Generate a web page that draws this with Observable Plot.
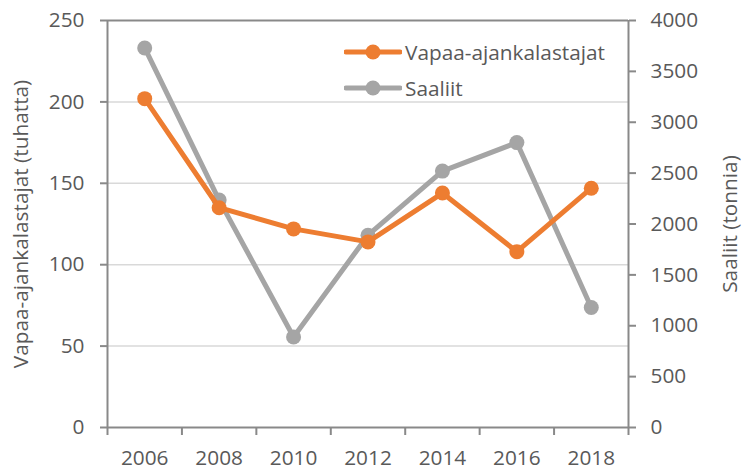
<!DOCTYPE html>
<html>
<head>
<meta charset="utf-8">
<script src="https://cdn.jsdelivr.net/npm/d3@7"></script>
<script src="https://cdn.jsdelivr.net/npm/@observablehq/plot@0.6"></script>
<style>
  html, body { margin: 0; padding: 0; background: #fff; }
  #wrap { position: relative; width: 744px; height: 470px; font-family: "Open Sans", sans-serif; }
  #legend { position: absolute; left: 344px; top: 34px; color: #595959; font-size: 20.8px; }
  .lg { display: flex; align-items: center; height: 36px; }
  .lg svg { margin-right: 3px; }
</style>
</head>
<body>
<div id="wrap"></div>
<script>
const years = [2006, 2008, 2010, 2012, 2014, 2016, 2018];
const kalastajat = [202, 135, 122, 114, 144, 108, 147];   // tuhatta (left axis)
const saaliit = [3730, 2235, 890, 1890, 2520, 2800, 1180]; // tonnia (right axis)
const leftTicks = [0, 50, 100, 150, 200, 250];
const rightTicks = [0, 500, 1000, 1500, 2000, 2500, 3000, 3500, 4000];
const seriesNames = ["Vapaa-ajankalastajat", "Saaliit"];
const colors = ["#ED7D31", "#A5A5A5"];

const leftMax = 250, rightMax = 4000;
const k = leftMax / rightMax;
const boundaries = d3.range(years[0] - 1, years[years.length - 1] + 2, 2);

const dataK = years.map((y, i) => ({year: y, v: kalastajat[i]}));
const dataS = years.map((y, i) => ({year: y, v: saaliit[i] * k}));

const axisColor = "#898989";
const textColor = "#595959";
const fs = 20.8;

const plot = Plot.plot({
  width: 744,
  height: 470,
  marginLeft: 107,
  marginRight: 116,
  marginTop: 20,
  marginBottom: 43,
  style: {fontFamily: "'Open Sans', sans-serif", fontSize: fs + "px", color: textColor, background: "#fff"},
  x: {type: "linear", domain: [boundaries[0], boundaries[boundaries.length - 1]]},
  y: {domain: [0, leftMax]},
  marks: [
    Plot.gridY([50, 100, 150, 200], {stroke: "#d9d9d9", strokeOpacity: 1, strokeWidth: 1.5}),
    Plot.ruleY([leftMax], {stroke: axisColor, strokeWidth: 2}),
    // left axis
    Plot.axisY(leftTicks, {anchor: "left", tickSize: 7, tickPadding: 16, stroke: axisColor, strokeWidth: 2, fill: textColor, label: null, fontSize: fs}),
    // right axis
    Plot.axisY(rightTicks.map(d => d * k), {anchor: "right", tickSize: 7, tickPadding: 15, stroke: axisColor, strokeWidth: 2, fill: textColor, tickFormat: d => String(Math.round(d / k)), label: null, fontSize: fs}),
    Plot.ruleX([boundaries[0]], {stroke: axisColor, strokeWidth: 2}),
    Plot.ruleX([boundaries[boundaries.length - 1]], {stroke: axisColor, strokeWidth: 2}),
    Plot.ruleY([0], {stroke: axisColor, strokeWidth: 2}),
    // x axis: tick marks at boundaries, labels at years
    Plot.axisX(boundaries, {tickSize: 8, tickFormat: () => "", stroke: axisColor, strokeWidth: 2, label: null}),
    Plot.axisX(years, {tickSize: 0, tickPadding: 23, tickFormat: d => String(d), fill: textColor, label: null, fontSize: fs}),
    // axis titles
    Plot.text([seriesNames[0] + " (tuhatta)"], {frameAnchor: "left", textAnchor: "middle", dx: -86, rotate: -90, fill: textColor, fontSize: fs}),
    Plot.text([seriesNames[1] + " (tonnia)"], {frameAnchor: "right", textAnchor: "middle", dx: 102, rotate: -90, fill: textColor, fontSize: fs}),
    // series
    Plot.line(dataS, {x: "year", y: "v", stroke: colors[1], strokeWidth: 5}),
    Plot.dot(dataS, {x: "year", y: "v", r: 7.5, fill: colors[1], stroke: "none"}),
    Plot.line(dataK, {x: "year", y: "v", stroke: colors[0], strokeWidth: 5}),
    Plot.dot(dataK, {x: "year", y: "v", r: 7.5, fill: colors[0], stroke: "none"})
  ]
});

const wrap = document.getElementById("wrap");
wrap.appendChild(plot);

const legend = document.createElement("div");
legend.id = "legend";
seriesNames.forEach((name, i) => {
  const row = document.createElement("div");
  row.className = "lg";
  row.innerHTML = `<svg width="58" height="20"><line x1="2" y1="10" x2="56" y2="10" stroke="${colors[i]}" stroke-width="5" stroke-linecap="round"/><circle cx="29" cy="10" r="7.5" fill="${colors[i]}"/></svg><span>${name}</span>`;
  legend.appendChild(row);
});
wrap.appendChild(legend);
</script>
</body>
</html>
